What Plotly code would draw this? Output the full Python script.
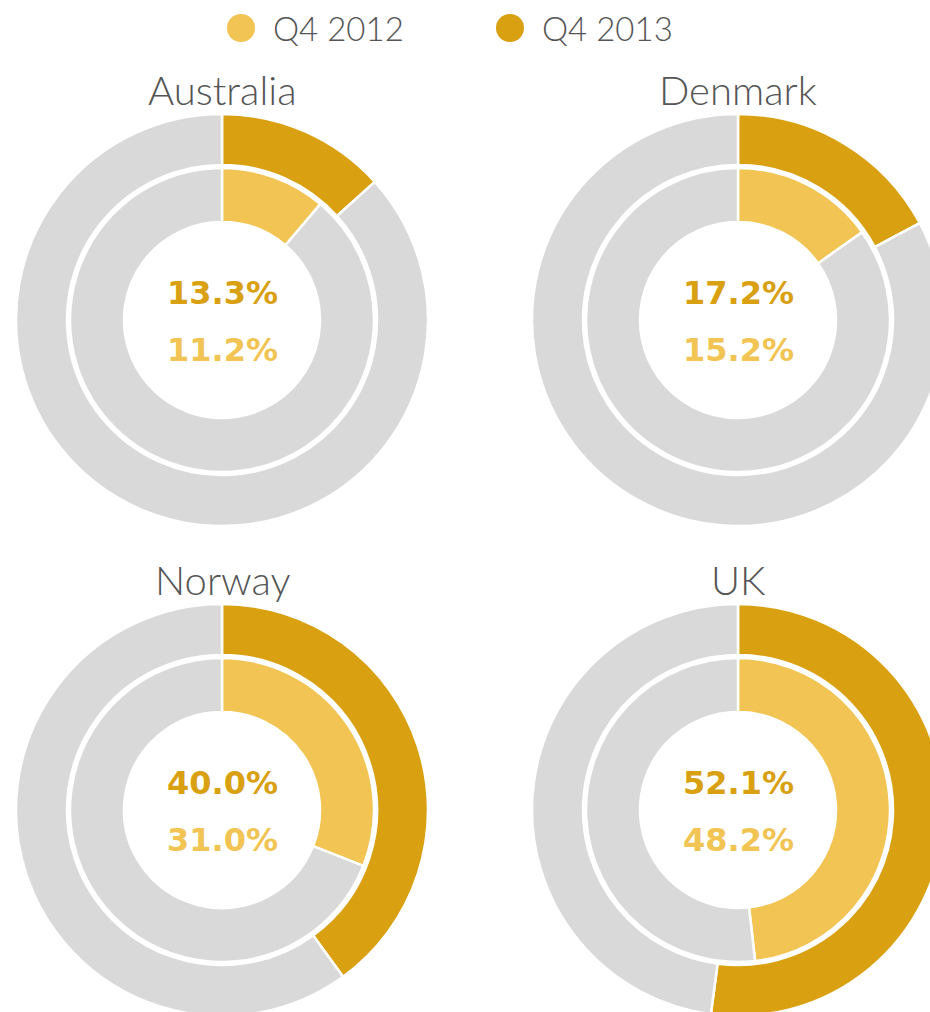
import plotly.graph_objects as go

countries = ["Australia", "Denmark", "Norway", "UK"]
q4_2012 = [11.2, 15.2, 31.0, 48.2]
q4_2013 = [13.3, 17.2, 40.0, 52.1]
series_names = ["Q4 2012", "Q4 2013"]

C12 = "#F1C453"
C13 = "#D9A012"
GREY = "#D9D9D9"
TXT = "#555555"

W, H = 945, 1025
centers = [(222, 320), (738, 320), (222, 810), (738, 810)]
R_OUT, R_IN = 206, 152

def dom(cx, cy, r):
    return dict(x=[(cx - r) / W, (cx + r) / W], y=[1 - (cy + r) / H, 1 - (cy - r) / H])

fig = go.Figure()
for name, v12, v13, (cx, cy) in zip(countries, q4_2012, q4_2013, centers):
    fig.add_trace(go.Pie(
        values=[v13, 100 - v13], labels=[series_names[1], "rest"],
        domain=dom(cx, cy, R_OUT), hole=155 / R_OUT, sort=False,
        direction="clockwise", rotation=0, textinfo="none", hoverinfo="skip",
        marker=dict(colors=[C13, GREY], line=dict(color="white", width=2.5)),
        showlegend=False))
    fig.add_trace(go.Pie(
        values=[v12, 100 - v12], labels=[series_names[0], "rest"],
        domain=dom(cx, cy, R_IN), hole=98 / R_IN, sort=False,
        direction="clockwise", rotation=0, textinfo="none", hoverinfo="skip",
        marker=dict(colors=[C12, GREY], line=dict(color="white", width=2.5)),
        showlegend=False))
    fig.add_annotation(x=cx / W, y=1 - (cy - 230) / H, xref="paper", yref="paper",
                       text=name, showarrow=False, xanchor="center", yanchor="middle",
                       font=dict(family="Lato", size=40, color=TXT, weight=300))
    fig.add_annotation(x=cx / W, y=1 - (cy - 27) / H, xref="paper", yref="paper",
                       text=f"<b>{v13:.1f}%</b>", showarrow=False, xanchor="center", yanchor="middle",
                       font=dict(family="DejaVu Sans", size=32, color=C13))
    fig.add_annotation(x=cx / W, y=1 - (cy + 30) / H, xref="paper", yref="paper",
                       text=f"<b>{v12:.1f}%</b>", showarrow=False, xanchor="center", yanchor="middle",
                       font=dict(family="DejaVu Sans", size=32, color=C12))

# legend
for lx, name, col in [(241, series_names[0], C12), (510, series_names[1], C13)]:
    fig.add_shape(type="circle", xref="paper", yref="paper",
                  x0=(lx - 14) / W, x1=(lx + 14) / W, y0=1 - (28 + 14) / H, y1=1 - (28 - 14) / H,
                  fillcolor=col, line=dict(width=0))
    fig.add_annotation(x=(lx + 30) / W, y=1 - 28 / H, xref="paper", yref="paper",
                       text=name, showarrow=False, xanchor="left", yanchor="middle",
                       font=dict(family="Lato", size=33, color=TXT, weight=300))

fig.update_layout(width=W, height=H, margin=dict(l=0, r=0, t=0, b=0),
                  paper_bgcolor="white", plot_bgcolor="white", showlegend=False)

fig.write_html("out.html", post_script="document.body.style.overflow='hidden';document.documentElement.style.overflow='hidden';document.body.style.margin='0';")
